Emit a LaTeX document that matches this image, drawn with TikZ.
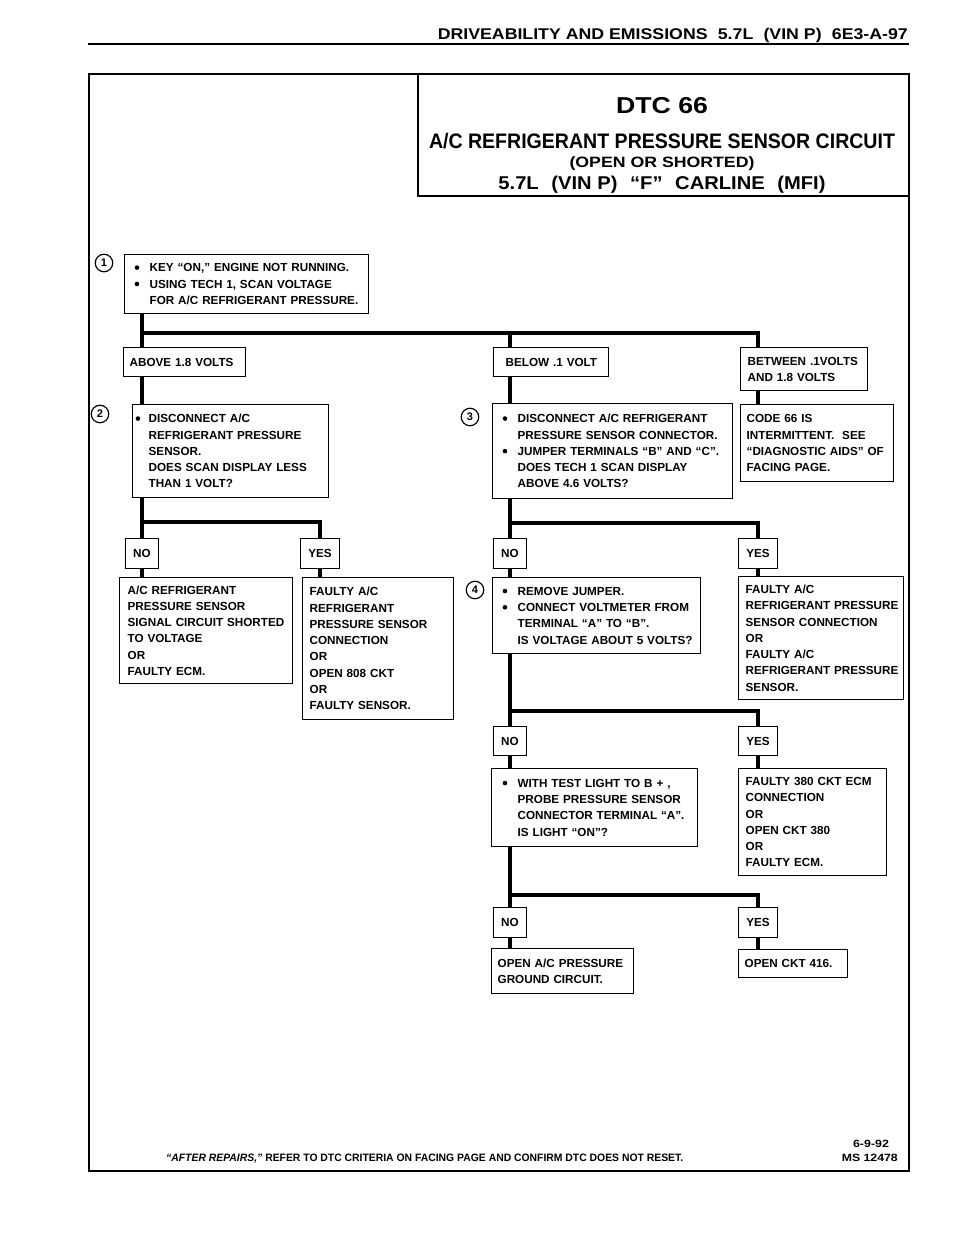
\documentclass[tikz,border=0pt]{standalone}
\usepackage{fontspec}
\usepackage{graphicx}
\setmainfont{Liberation Sans}
\newcommand\bfnt{\fontsize{11.7}{16.3}\selectfont\bfseries}
\newcommand\mydot{\raisebox{1.9pt}{\tikz\fill (0,0) circle (2.3pt);}}
\newcommand\myB[2][15pt]{\makebox[#1][l]{\mydot}\mbox{#2}}
\newcommand\myI[2][15pt]{\hspace*{#1}\mbox{#2}}
\newcommand\myP[1]{\mbox{#1}}
\begin{document}
\begin{tikzpicture}[x=1pt,y=-1pt,
  box/.style={draw, line width=1.3pt, fill=white, anchor=north west, align=left, font=\bfnt, inner ysep=0pt},
  yn/.style={draw, line width=1.3pt, fill=white, anchor=north, font=\bfnt, inner xsep=8pt, inner ysep=0pt, minimum height=30pt},
  conn/.style={line width=4pt, line join=miter},
  num/.style={circle, draw, line width=1.2pt, minimum size=17.5pt, inner sep=0pt, font=\fontsize{11}{11}\selectfont\bfseries},
  ttl/.style={inner sep=0pt, anchor=base}]
\fill[white] (0,0) rectangle (960,1250);
\useasboundingbox (0,0) rectangle (960,1250);

% header
\node[ttl, anchor=base east] (hdr) at (908,39) {\resizebox{470pt}{\height}{\fontsize{15.5}{15.5}\selectfont\bfseries DRIVEABILITY AND EMISSIONS\hspace{0.3em} 5.7L\hspace{0.3em} (VIN P)\hspace{0.3em} 6E3-A-97}};
\draw[line width=2.2pt] (88,44) -- (909,44);

% frame and title box
\draw[line width=2.2pt] (89,74) rectangle (909,1171);
\draw[line width=1.6pt] (418,74) rectangle (909,196);
\node[ttl] (dtc) at (662,113) {\resizebox{92pt}{\height}{\fontsize{23}{23}\selectfont\bfseries DTC 66}};
\node[ttl] (t1) at (662,148) {\resizebox{466pt}{\height}{\fontsize{21}{21}\selectfont\bfseries A/C REFRIGERANT PRESSURE SENSOR CIRCUIT}};
\node[ttl] (t2) at (662,167) {\resizebox{185pt}{\height}{\fontsize{15}{15}\selectfont\bfseries (OPEN OR SHORTED)}};
\node[ttl] (t3) at (662,189) {\resizebox{327pt}{\height}{\fontsize{18.5}{18.5}\selectfont\bfseries 5.7L\hspace{0.35em} (VIN P)\hspace{0.35em} “F”\hspace{0.35em} CARLINE\hspace{0.35em} (MFI)}};

% step numbers
\node[num] (n1) at (104,263) {1};
\node[num] (n2) at (100,414) {2};
\node[num] (n3) at (470,417) {3};
\node[num] (n4) at (475,590) {4};

% boxes
\node[box, inner xsep=10pt, text width=224pt, minimum height=59pt] (b1) at (124,254)
  {\myB{KEY “ON,” ENGINE NOT RUNNING.}\\\myB{USING TECH 1, SCAN VOLTAGE}\\\myI{FOR A/C REFRIGERANT PRESSURE.}};
\node[box, inner xsep=6pt, text width=110pt, minimum height=29pt] (above) at (123,347) {\myP{ABOVE 1.8 VOLTS}};
\node[box, inner xsep=12pt, text width=91pt, minimum height=29pt] (below) at (493,347) {\myP{BELOW .1 VOLT}};
\node[box, inner xsep=7pt, text width=113pt, minimum height=43pt] (between) at (740,347) {\myP{BETWEEN .1VOLTS}\\\myP{AND 1.8 VOLTS}};

\node[box, inner xsep=3pt, text width=190pt, minimum height=93pt] (b2) at (132,404)
  {\myB[13pt]{DISCONNECT A/C}\\\myI[13pt]{REFRIGERANT PRESSURE}\\\myI[13pt]{SENSOR.}\\\myI[13pt]{DOES SCAN DISPLAY LESS}\\\myI[13pt]{THAN 1 VOLT?}};
\node[box, inner xsep=10pt, text width=220pt, minimum height=95pt] (b3) at (492,403)
  {\myB{DISCONNECT A/C REFRIGERANT}\\\myI{PRESSURE SENSOR CONNECTOR.}\\\myB{JUMPER TERMINALS “B” AND “C”.}\\\myI{DOES TECH 1 SCAN DISPLAY}\\\myI{ABOVE 4.6 VOLTS?}};
\node[box, inner xsep=6pt, text width=141pt, minimum height=77pt] (code) at (740,404)
  {\myP{CODE 66 IS}\\\myP{INTERMITTENT.\ \ SEE}\\\myP{“DIAGNOSTIC AIDS” OF}\\\myP{FACING PAGE.}};

\node[yn] (no1) at (142,538) {NO};
\node[yn] (yes1) at (320,538) {YES};
\node[box, inner xsep=8pt, text width=157pt, minimum height=106pt] (no1r) at (119,577)
  {\myP{A/C REFRIGERANT}\\\myP{PRESSURE SENSOR}\\\myP{SIGNAL CIRCUIT SHORTED}\\\myP{TO VOLTAGE}\\\myP{OR}\\\myP{FAULTY ECM.}};
\node[box, inner xsep=7pt, text width=137pt, minimum height=142pt] (yes1r) at (302,577)
  {\myP{FAULTY A/C}\\\myP{REFRIGERANT}\\\myP{PRESSURE SENSOR}\\\myP{CONNECTION}\\\myP{OR}\\\myP{OPEN 808 CKT}\\\myP{OR}\\\myP{FAULTY SENSOR.}};

\node[yn] (no2) at (510,538) {NO};
\node[yn] (yes2) at (758,538) {YES};
\node[box, inner xsep=10pt, text width=188pt, minimum height=76pt] (b4) at (492,577)
  {\myB{REMOVE JUMPER.}\\\myB{CONNECT VOLTMETER FROM}\\\myI{TERMINAL “A” TO “B”.}\\\myI{IS VOLTAGE ABOUT 5 VOLTS?}};
\node[box, inner xsep=7pt, text width=151pt, minimum height=123pt] (yes2r) at (738,576)
  {\myP{FAULTY A/C}\\\myP{REFRIGERANT PRESSURE}\\\myP{SENSOR CONNECTION}\\\myP{OR}\\\myP{FAULTY A/C}\\\myP{REFRIGERANT PRESSURE}\\\myP{SENSOR.}};

\node[yn, minimum height=29pt] (no3) at (510,726) {NO};
\node[yn, minimum height=29pt] (yes3) at (758,726) {YES};
\node[box, inner xsep=11pt, text width=184pt, minimum height=78pt] (b5) at (491,768)
  {\myB{WITH TEST LIGHT TO B + ,}\\\myI{PROBE PRESSURE SENSOR}\\\myI{CONNECTOR TERMINAL “A”.}\\\myI{IS LIGHT “ON”?}};
\node[box, inner xsep=7pt, text width=134pt, minimum height=107pt] (yes3r) at (738,768)
  {\myP{FAULTY 380 CKT ECM}\\\myP{CONNECTION}\\\myP{OR}\\\myP{OPEN CKT 380}\\\myP{OR}\\\myP{FAULTY ECM.}};

\node[yn] (no4) at (510,907) {NO};
\node[yn] (yes4) at (758,907) {YES};
\node[box, inner xsep=6pt, text width=130pt, minimum height=45pt] (no4r) at (491,948)
  {\myP{OPEN A/C PRESSURE}\\\myP{GROUND CIRCUIT.}};
\node[box, inner xsep=6pt, text width=97pt, minimum height=28pt] (yes4r) at (738,949) {\myP{OPEN CKT 416.}};

% connectors
\coordinate (xA) at (142,0);
\coordinate (xB) at (320,0);
\coordinate (xC) at (510,0);
\coordinate (xD) at (758,0);
\coordinate (r1) at (142,333);
\coordinate (r2) at (142,522);
\coordinate (r3) at (510,523);
\coordinate (r4) at (510,711);
\coordinate (r5) at (510,895);

\draw[conn] (b1.south -| xA) -- (above.north -| xA);
\draw[conn] (r1) -| (between.north -| xD);
\draw[conn] (r1 -| xC) -- (below.north -| xC);
\draw[conn] (above.south -| xA) -- (b2.north -| xA);
\draw[conn] (below.south -| xC) -- (b3.north -| xC);
\draw[conn] (between.south -| xD) -- (code.north -| xD);

\draw[conn] (b2.south -| xA) -- (no1.north);
\draw[conn] (r2) -| (yes1.north);
\draw[conn] (no1.south) -- (no1r.north -| no1.south);
\draw[conn] (yes1.south) -- (yes1r.north -| yes1.south);

\draw[conn] (b3.south -| xC) -- (no2.north);
\draw[conn] (r3) -| (yes2.north);
\draw[conn] (no2.south) -- (b4.north -| no2.south);
\draw[conn] (yes2.south) -- (yes2r.north -| yes2.south);

\draw[conn] (b4.south -| xC) -- (no3.north);
\draw[conn] (r4) -| (yes3.north);
\draw[conn] (no3.south) -- (b5.north -| no3.south);
\draw[conn] (yes3.south) -- (yes3r.north -| yes3.south);

\draw[conn] (b5.south -| xC) -- (no4.north);
\draw[conn] (r5) -| (yes4.north);
\draw[conn] (no4.south) -- (no4r.north -| no4.south);
\draw[conn] (yes4.south) -- (yes4r.north -| yes4.south);

% footer
\node[ttl, anchor=base west] (foot) at (166,1161) {\resizebox{517pt}{\height}{\fontsize{10.7}{10.7}\selectfont\bfseries\textit{“AFTER REPAIRS,”} REFER TO DTC CRITERIA ON FACING PAGE AND CONFIRM DTC DOES NOT RESET.}};
\node[ttl] (date) at (871,1147) {\resizebox{36pt}{\height}{\fontsize{10.5}{10.5}\selectfont\bfseries 6-9-92}};
\node[ttl, anchor=base east] (ms) at (898,1161) {\resizebox{56pt}{\height}{\fontsize{10.5}{10.5}\selectfont\bfseries MS 12478}};
\end{tikzpicture}
\end{document}
